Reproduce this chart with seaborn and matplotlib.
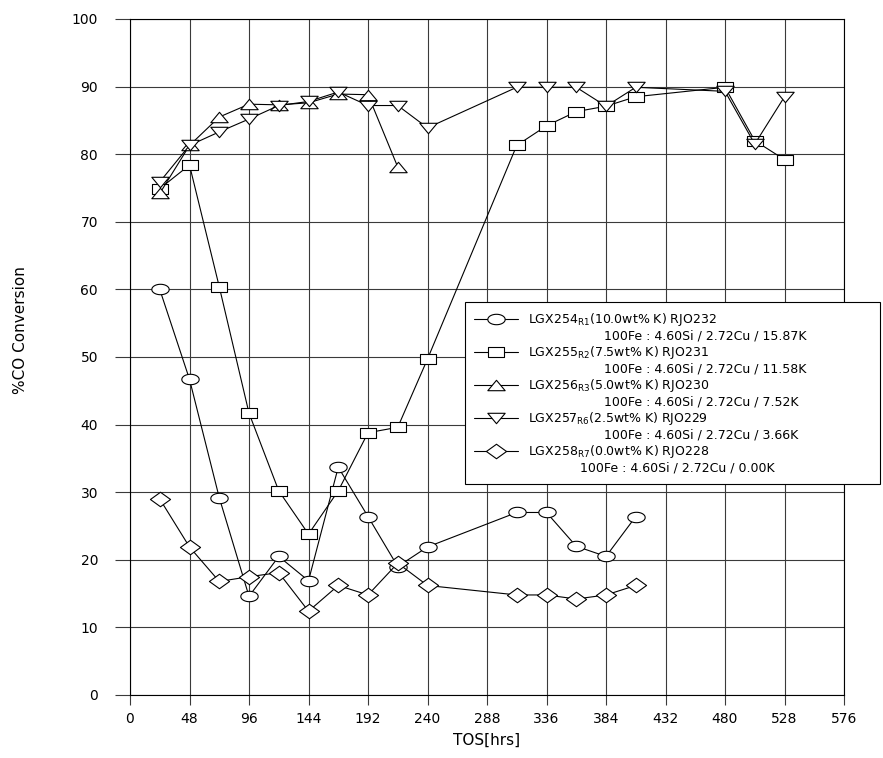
import numpy as np
import pandas as pd
import matplotlib
matplotlib.use("Agg")
import matplotlib.pyplot as plt
import seaborn as sns
from matplotlib.lines import Line2D
from matplotlib.path import Path

# ---------------- data ----------------
tos_254 = [24, 48, 72, 96, 120, 144, 168, 192, 216, 240, 312, 336, 360, 384, 408]
conv_254 = [60.0, 46.7, 29.2, 14.6, 20.5, 16.9, 33.7, 26.4, 19.0, 21.9, 27.0, 27.0, 22.0, 20.5, 26.4]

tos_255 = [24, 48, 72, 96, 120, 144, 168, 192, 216, 240, 312, 336, 360, 384, 408, 480, 504, 528]
conv_255 = [74.9, 78.4, 60.4, 41.7, 30.2, 23.8, 30.2, 38.8, 39.6, 49.7, 81.3, 84.2, 86.3, 87.1, 88.5, 89.9, 82.0, 79.2]

tos_256 = [24, 48, 72, 96, 120, 144, 168, 192, 216]
conv_256 = [74.2, 81.3, 85.5, 87.4, 87.3, 87.6, 88.9, 88.8, 78.1]

tos_257 = [24, 48, 72, 96, 120, 144, 168, 192, 216, 240, 312, 336, 360, 384, 408, 480, 504, 528]
conv_257 = [75.9, 81.3, 83.3, 85.2, 87.2, 87.8, 89.2, 87.2, 87.2, 83.9, 89.9, 89.9, 89.9, 87.1, 89.9, 89.3, 81.5, 88.5]

tos_258 = [24, 48, 72, 96, 120, 144, 168, 192, 216, 240, 312, 336, 360, 384, 408]
conv_258 = [29.0, 21.9, 16.8, 17.5, 18.1, 12.4, 16.2, 14.8, 19.5, 16.2, 14.8, 14.8, 14.2, 14.8, 16.2]

label_main = [
    r"LGX254$_{\mathregular{R1}}$(10.0wt% K) RJO232",
    r"LGX255$_{\mathregular{R2}}$(7.5wt% K) RJO231",
    r"LGX256$_{\mathregular{R3}}$(5.0wt% K) RJO230",
    r"LGX257$_{\mathregular{R6}}$(2.5wt% K) RJO229",
    r"LGX258$_{\mathregular{R7}}$(0.0wt% K) RJO228",
]
label_comp = [
    "100Fe : 4.60Si / 2.72Cu / 15.87K",
    "100Fe : 4.60Si / 2.72Cu / 11.58K",
    "100Fe : 4.60Si / 2.72Cu / 7.52K",
    "100Fe : 4.60Si / 2.72Cu / 3.66K",
    "100Fe : 4.60Si / 2.72Cu / 0.00K",
]
x_ticks = list(range(0, 577, 48))
y_ticks = list(range(0, 101, 10))

# ---------------- style ----------------
sns.set_style("white")
plt.rcParams["font.family"] = ["DejaVu Sans"]
plt.rcParams["mathtext.default"] = "regular"
plt.rcParams["text.color"] = "black"
plt.rcParams["axes.labelcolor"] = "black"
plt.rcParams["xtick.color"] = "black"
plt.rcParams["ytick.color"] = "black"

# stretched (wide) markers as in the reference
t = np.linspace(0, 2 * np.pi, 64)
m_ellipse = Path(np.column_stack([np.cos(t), 0.6 * np.sin(t)]))
m_rect = Path([(-1, -0.64), (1, -0.64), (1, 0.64), (-1, 0.64), (-1, -0.64)], closed=True)
m_up = Path([(-1, -0.6), (1, -0.6), (0, 0.6), (-1, -0.6)], closed=True)
m_down = Path([(-1, 0.6), (1, 0.6), (0, -0.6), (-1, 0.6)], closed=True)
m_diam = Path([(-1, 0), (0, 0.72), (1, 0), (0, -0.72), (-1, 0)], closed=True)

fig = plt.figure(figsize=(8.83, 7.58), dpi=100)
ax = fig.add_axes([130 / 883, 1 - 695 / 758, 714 / 883, 676 / 758])

series = [
    (tos_254, conv_254, m_ellipse, 12.5),
    (tos_255, conv_255, m_rect, 12.0),
    (tos_256, conv_256, m_up, 12.5),
    (tos_257, conv_257, m_down, 12.5),
    (tos_258, conv_258, m_diam, 14.5),
]
lines = []
for i, (xs, ys, mk, ms) in enumerate(series):
    df = pd.DataFrame({"TOS": xs, "Conv": ys})
    n_before = len(ax.lines)
    sns.lineplot(data=df, x="TOS", y="Conv", ax=ax, estimator=None, sort=False,
                 color="black", lw=0.8, marker=mk, ms=ms, mfc="white",
                 mec="black", mew=0.8, legend=False, zorder=3 + i)
    lines.append(ax.lines[n_before])

ax.set_xlim(0, 576)
ax.set_ylim(0, 100)
ax.set_xticks(x_ticks)
ax.set_yticks(y_ticks)
ax.grid(True, color="#3a3a3a", lw=0.8)
ax.set_axisbelow(True)
for s in ax.spines.values():
    s.set_visible(True)
    s.set_color("black")
    s.set_linewidth(0.8)
ax.tick_params(axis="y", length=11, width=0.8, pad=12, labelsize=10, color="#3a3a3a",
               labelcolor="black", left=True)
ax.tick_params(axis="x", length=7, width=0.8, pad=5, labelsize=10, color="#3a3a3a",
               labelcolor="black", bottom=True)

ax.set_xlabel("TOS[hrs]", fontsize=11, labelpad=5, color="black")
ax.set_ylabel("%CO Conversion", fontsize=11, color="black")
ax.yaxis.set_label_coords(-0.143, 0.54)

# legend: main line + composition line per sample
blank = Line2D([], [], linestyle="none", marker="none")
handles, labels = [], []
for k, (ln, l1, l2) in enumerate(zip(lines, label_main, label_comp)):
    indent = " " * (19 if k < 4 else 13)
    handles += [ln, blank]
    labels += [l1, indent + l2]

leg = ax.legend(handles, labels, loc="upper left",
                bbox_to_anchor=(465 / 883, 1 - 302 / 758, 415 / 883, 0),
                bbox_transform=fig.transFigure, mode="expand",
                fontsize=9, frameon=True, fancybox=False, framealpha=1,
                edgecolor="black", borderpad=0.75, handlelength=3.5,
                handletextpad=0.8, labelspacing=0.12, borderaxespad=0,
                labelcolor="black")
leg.get_frame().set_linewidth(0.8)
leg.set_zorder(20)

fig.savefig("out.png", dpi=100)
